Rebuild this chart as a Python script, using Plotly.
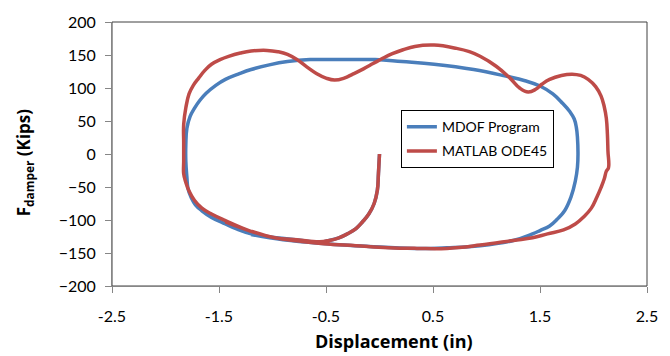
import plotly.graph_objects as go

# Damper force vs. displacement hysteresis (kips vs. inches)
disp_mdof = [0, -0.01, -0.02, -0.05, -0.10, -0.16, -0.22, -0.30, -0.38, -0.47, -0.56,
             -0.72, -0.89, -1.05, -1.20, -1.33, -1.44, -1.57, -1.66, -1.72, -1.76, -1.79,
             -1.80, -1.81, -1.81, -1.80, -1.77, -1.73, -1.68, -1.62, -1.53, -1.44, -1.32,
             -1.20, -1.03, -0.86, -0.65, -0.35, -0.04, 0.21, 0.51, 0.88, 1.18, 1.36, 1.50,
             1.62, 1.71, 1.78, 1.82, 1.84, 1.85, 1.855, 1.85, 1.83, 1.79, 1.73, 1.66, 1.59,
             1.50, 1.43, 1.25, 0.94, 0.63, 0.33, -0.10, -0.50, -0.90, -1.20]
force_mdof = [0, -30, -55, -75, -91, -103, -113, -121, -127, -131, -134,
              -131, -128, -125, -121, -114, -106, -96, -86, -77, -66, -52,
              -35, -11, 14, 39, 57, 69, 81, 92, 104, 113, 121,
              128, 135, 140, 143, 143, 143, 140, 136, 128, 118, 111, 103,
              91, 77, 64, 53, 40, 25, 0, -20, -41, -65, -86, -99, -109,
              -116, -121, -131, -139, -142, -143, -140, -136, -130, -122]

disp_ode45 = [0, -0.01, -0.02, -0.05, -0.10, -0.16, -0.22, -0.30, -0.38, -0.47, -0.56,
              -0.77, -0.98, -1.22, -1.44, -1.57, -1.66, -1.73, -1.78, -1.81, -1.83, -1.83,
              -1.83, -1.83, -1.81, -1.78, -1.74, -1.69, -1.63, -1.57, -1.49, -1.41, -1.30,
              -1.20, -1.05, -0.95, -0.86, -0.77, -0.68, -0.59, -0.50, -0.42, -0.33, -0.25,
              -0.15, -0.06, 0.03, 0.12, 0.22, 0.33, 0.51, 0.72, 0.84, 0.94, 1.09, 1.22, 1.31,
              1.39, 1.46, 1.52, 1.59, 1.70, 1.80, 1.88, 1.95, 2.02, 2.07, 2.10, 2.12, 2.13,
              2.135, 2.14, 2.12, 2.10, 2.07, 2.03, 1.98, 1.91, 1.83, 1.72, 1.57, 1.43, 1.25,
              0.94, 0.63, 0.35, 0.08, -0.22, -0.52, -0.75, -0.98, -1.22, -1.44]
force_ode45 = [0, -30, -55, -75, -91, -103, -113, -121, -127, -131, -133,
               -130, -127, -116, -101, -91, -82, -70, -56, -43, -30, -11,
               17, 45, 70, 91, 104, 115, 127, 136, 143, 148, 153,
               156, 157, 155, 151, 143, 132, 122, 115, 112, 115, 121,
               129, 137, 145, 152, 158, 163, 165, 160, 155, 148, 133, 115, 100,
               94, 98, 106, 113, 119, 121, 119, 113, 102, 88, 72, 54, 30,
               5, -21, -26, -38, -51, -66, -82, -95, -106, -115, -121, -127, -131,
               -138, -143, -143, -142, -139, -136, -132, -127, -116, -103]

x_ticks = [-2.5, -1.5, -0.5, 0.5, 1.5, 2.5]
y_ticks = [-200, -150, -100, -50, 0, 50, 100, 150, 200]

BLUE = "#4A7EBB"
RED = "#BE4B48"
AXIS = "#868686"
FONT = "Lato"
TITLE_FONT = "Open Sans"

fig = go.Figure()
fig.add_trace(go.Scatter(x=disp_mdof, y=force_mdof, mode="lines", name="MDOF Program",
                         legendgroup="a",
                         line=dict(color=BLUE, width=3.5, shape="spline", smoothing=1.2)))
fig.add_trace(go.Scatter(x=disp_ode45, y=force_ode45, mode="lines", name="MATLAB ODE45",
                         legendgroup="b",
                         line=dict(color=RED, width=3.5, shape="spline", smoothing=1.2)))

fig.update_layout(
    width=670, height=356,
    margin=dict(l=112, r=15, t=20, b=70),
    paper_bgcolor="white", plot_bgcolor="white",
    font=dict(family=FONT, color="black"),
    showlegend=True,
    legend=dict(x=0.54, y=0.666, xanchor="left", yanchor="top",
                bgcolor="white", bordercolor="black", borderwidth=1,
                font=dict(family=FONT, size=14, color="black"),
                traceorder="grouped", tracegroupgap=3),
    xaxis=dict(range=[-2.5, 2.5], tickvals=x_ticks, ticktext=[f"{v:g}" for v in x_ticks],
               showgrid=False, zeroline=False, showline=True, linecolor=AXIS, linewidth=1,
               ticks="outside", ticklen=6, tickcolor=AXIS,
               ticklabelstandoff=10, tickfont=dict(family=FONT, size=16)),
    yaxis=dict(range=[-200, 200], tickvals=y_ticks,
               showgrid=False, zeroline=False, showline=True, linecolor=AXIS, linewidth=1,
               ticks="outside", ticklen=6, tickcolor=AXIS,
               ticklabelstandoff=6, tickfont=dict(family=FONT, size=16)),
    shapes=[dict(type="rect", xref="paper", yref="paper", x0=0, x1=1, y0=0, y1=1,
                 line=dict(color="#404040", width=1), layer="below")],
    annotations=[
        dict(text="<b>Displacement (in)</b>", xref="paper", yref="paper",
             x=0.527, y=-0.207, xanchor="center", yanchor="middle", showarrow=False,
             font=dict(family=TITLE_FONT, size=18, color="black")),
        dict(text="<b>F<sub>damper</sub> (Kips)</b>", xref="paper", yref="paper",
             x=-0.162, y=0.47, xanchor="center", yanchor="middle", showarrow=False,
             textangle=-90, font=dict(family=TITLE_FONT, size=17, color="black")),
    ],
)

fig.write_html("out.html")
